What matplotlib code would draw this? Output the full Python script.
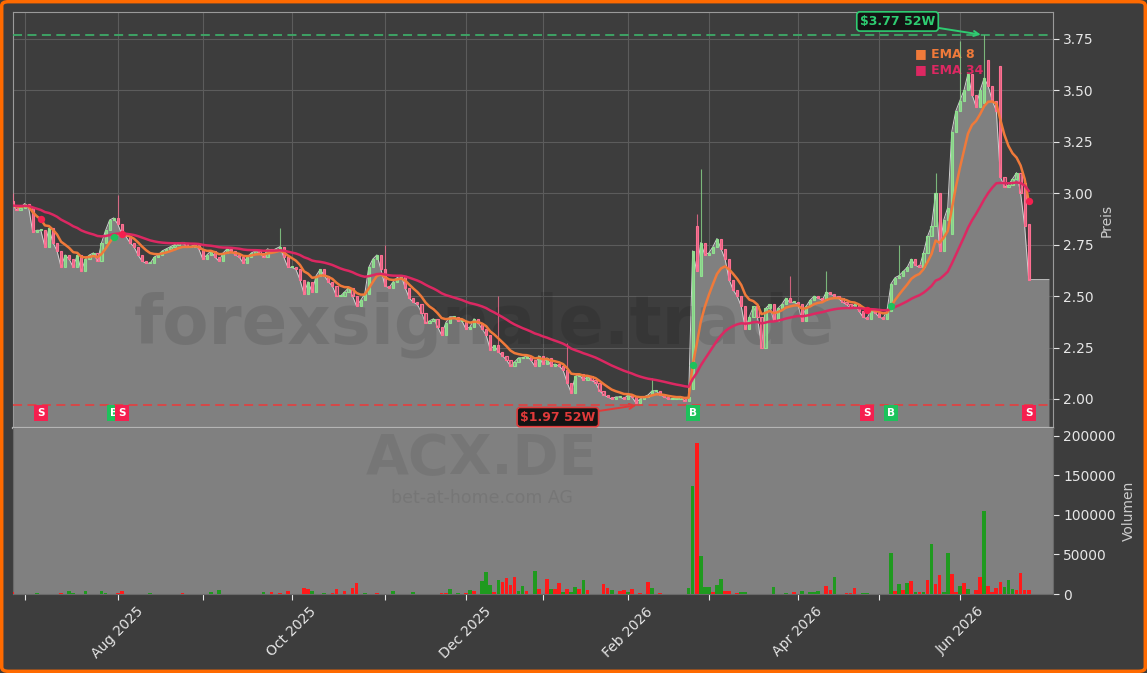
import matplotlib
matplotlib.use('Agg')
import matplotlib.pyplot as plt
from matplotlib.patches import FancyBboxPatch
import numpy as np
import pandas as pd

# Xetra trading days, exchange holidays taken out
holidays = ['2025-12-24', '2025-12-25', '2025-12-26', '2025-12-31',
            '2026-01-01', '2026-04-03', '2026-04-06', '2026-05-01']
dates = pd.bdate_range('2025-06-26', '2026-06-24')
dates = dates[~dates.isin(pd.to_datetime(holidays))]

closes = [
    2.94, 2.92, 2.93, 2.95, 2.93, 2.81, 2.82, 2.82, 2.74, 2.83,
    2.76, 2.72, 2.64, 2.70, 2.68, 2.64, 2.70, 2.62, 2.68, 2.70,
    2.71, 2.67, 2.76, 2.82, 2.87, 2.88, 2.85, 2.80, 2.79, 2.76,
    2.74, 2.70, 2.67, 2.66, 2.66, 2.69, 2.70, 2.72, 2.73, 2.74,
    2.75, 2.76, 2.76, 2.74, 2.74, 2.75, 2.73, 2.68, 2.70, 2.72,
    2.69, 2.67, 2.71, 2.73, 2.72, 2.70, 2.69, 2.66, 2.69, 2.71,
    2.72, 2.71, 2.69, 2.73, 2.72, 2.73, 2.74, 2.69, 2.64, 2.64,
    2.63, 2.58, 2.51, 2.57, 2.52, 2.60, 2.63, 2.60, 2.57, 2.55,
    2.50, 2.50, 2.52, 2.54, 2.50, 2.45, 2.48, 2.51, 2.64, 2.68,
    2.70, 2.63, 2.55, 2.54, 2.57, 2.59, 2.60, 2.54, 2.49, 2.47,
    2.46, 2.42, 2.37, 2.38, 2.39, 2.35, 2.31, 2.37, 2.40, 2.40,
    2.38, 2.38, 2.34, 2.35, 2.39, 2.37, 2.34, 2.31, 2.24, 2.26,
    2.23, 2.21, 2.19, 2.16, 2.18, 2.20, 2.20, 2.21, 2.19, 2.16,
    2.21, 2.17, 2.20, 2.16, 2.17, 2.16, 2.14, 2.08, 2.03, 2.11,
    2.12, 2.09, 2.11, 2.09, 2.08, 2.04, 2.02, 2.01, 2.00, 2.01,
    2.01, 2.00, 2.02, 2.01, 1.98, 2.00, 2.01, 2.02, 2.04, 2.04,
    2.02, 2.01, 2.00, 2.00, 2.00, 2.01, 1.99, 2.01, 2.72, 2.62,
    2.76, 2.70, 2.71, 2.74, 2.78, 2.73, 2.68, 2.58, 2.53, 2.50,
    2.45, 2.34, 2.40, 2.45, 2.40, 2.25, 2.44, 2.46, 2.38, 2.44,
    2.46, 2.49, 2.47, 2.47, 2.46, 2.38, 2.45, 2.48, 2.50, 2.49,
    2.48, 2.52, 2.51, 2.50, 2.49, 2.47, 2.46, 2.44, 2.46, 2.43,
    2.40, 2.39, 2.43, 2.42, 2.40, 2.39, 2.43, 2.56, 2.59, 2.60,
    2.62, 2.64, 2.68, 2.65, 2.64, 2.71, 2.79, 2.84, 3.00, 2.72,
    2.87, 2.93, 3.30, 3.40, 3.45, 3.50, 3.58, 3.48, 3.42, 3.50,
    3.56, 3.52, 3.45, 3.40, 3.08, 3.03, 3.04, 3.07, 3.10, 3.00,
    2.84, 2.58,
]

opens = [
    2.96, 2.94, 2.92, 2.93, 2.95, 2.93, 2.81, 2.82, 2.82, 2.74,
    2.83, 2.76, 2.72, 2.64, 2.70, 2.68, 2.64, 2.70, 2.62, 2.68,
    2.70, 2.71, 2.67, 2.76, 2.82, 2.87, 2.88, 2.85, 2.80, 2.79,
    2.76, 2.74, 2.70, 2.67, 2.66, 2.66, 2.69, 2.70, 2.72, 2.73,
    2.74, 2.75, 2.76, 2.76, 2.74, 2.74, 2.75, 2.73, 2.68, 2.70,
    2.72, 2.69, 2.67, 2.71, 2.73, 2.72, 2.70, 2.69, 2.66, 2.69,
    2.71, 2.72, 2.71, 2.69, 2.73, 2.72, 2.73, 2.74, 2.69, 2.64,
    2.64, 2.63, 2.58, 2.51, 2.57, 2.52, 2.60, 2.63, 2.60, 2.57,
    2.55, 2.50, 2.50, 2.52, 2.54, 2.50, 2.45, 2.48, 2.51, 2.64,
    2.68, 2.70, 2.63, 2.55, 2.54, 2.57, 2.59, 2.60, 2.54, 2.49,
    2.47, 2.46, 2.42, 2.37, 2.38, 2.39, 2.35, 2.31, 2.37, 2.40,
    2.40, 2.38, 2.38, 2.34, 2.35, 2.39, 2.37, 2.34, 2.31, 2.24,
    2.26, 2.23, 2.21, 2.19, 2.16, 2.18, 2.20, 2.20, 2.21, 2.19,
    2.16, 2.21, 2.17, 2.20, 2.16, 2.17, 2.16, 2.14, 2.08, 2.03,
    2.11, 2.12, 2.09, 2.11, 2.09, 2.08, 2.04, 2.02, 2.01, 2.00,
    2.01, 2.01, 2.00, 2.02, 2.01, 1.98, 2.00, 2.01, 2.02, 2.04,
    2.04, 2.02, 2.01, 2.00, 2.00, 2.00, 2.01, 1.99, 2.05, 2.84,
    2.60, 2.76, 2.70, 2.71, 2.74, 2.78, 2.73, 2.68, 2.58, 2.53,
    2.50, 2.45, 2.34, 2.40, 2.45, 2.40, 2.25, 2.44, 2.46, 2.38,
    2.44, 2.46, 2.49, 2.47, 2.47, 2.46, 2.38, 2.45, 2.48, 2.50,
    2.49, 2.48, 2.52, 2.51, 2.50, 2.49, 2.47, 2.46, 2.44, 2.46,
    2.43, 2.40, 2.39, 2.43, 2.42, 2.40, 2.39, 2.43, 2.56, 2.59,
    2.60, 2.62, 2.64, 2.68, 2.65, 2.64, 2.71, 2.79, 2.84, 3.00,
    2.72, 2.87, 2.80, 3.30, 3.40, 3.45, 3.50, 3.58, 3.48, 3.42,
    3.44, 3.65, 3.52, 3.45, 3.62, 3.08, 3.03, 3.04, 3.07, 3.10,
    3.05, 2.85,
]

# upper wicks that stand out
wick_idx = [0, 26, 66, 92, 120, 137, 158, 169, 170, 192, 201, 219, 228, 234, 240]
wick_high = [3.00, 2.99, 2.83, 2.75, 2.50, 2.27, 2.10, 2.90, 3.12, 2.60, 2.62, 2.75, 3.10, 3.74, 3.77]

# volume (only days with visible bars), 'g' = up day, 'r' = down day
vol_idx = [0, 6, 12, 14, 15, 18, 22, 23, 26, 27, 34, 42, 49, 51, 62, 64, 66, 68,
           72, 73, 74, 77, 79, 80, 82, 84, 85, 87, 90, 94, 99, 106, 107, 108, 110,
           112, 113, 114, 116, 117, 118, 119, 120, 121, 122, 123, 124, 125, 126,
           127, 129, 130, 132, 133, 134, 135, 136, 137, 138, 139, 140, 141, 142,
           146, 147, 148, 150, 151, 152, 153, 155, 157, 158, 160, 167, 168, 169,
           170, 171, 172, 173, 174, 175, 176, 177, 179, 180, 181, 188, 191, 193,
           195, 197, 198, 199, 201, 202, 203, 206, 207, 208, 210, 211, 217, 218,
           219, 220, 221, 222, 223, 224, 225, 226, 227, 228, 229, 230, 231, 232,
           233, 234, 235, 236, 238, 239, 240, 241, 242, 243, 244, 245, 246, 247,
           248, 249, 250, 251]
vol_val = [2100, 1300, 1300, 3800, 1300, 3800, 3800, 1300, 1300, 3800, 1300, 1300,
           2500, 5000, 2500, 2500, 1300, 3800,
           7600, 6800, 3800, 1300, 1300, 6300, 3800, 7600, 14000, 1300, 1300, 3800,
           2500, 1300, 1300, 6300, 1300,
           1300, 5000, 3800, 16500, 27800, 11400, 2500, 17700, 15600, 20000, 11400,
           22000, 3800, 10000,
           3800, 29000, 6300, 19400, 6300, 6300, 14000, 2500, 6300, 2500, 9000, 6300,
           17700, 5000,
           12600, 7600, 5000, 3800, 5000, 2500, 6300, 1300, 15200, 7600, 1300, 7600,
           137000, 191500,
           48000, 9000, 9000, 2500, 11400, 19000, 3800, 3800, 1300, 2500, 2500, 9000,
           1300, 2500,
           3800, 2500, 2500, 3800, 10000, 5000, 21500, 1300, 1300, 7600, 1300, 1300,
           52000, 3800,
           12600, 5000, 14000, 16500, 2500, 2500, 2500, 17700, 63000, 12600, 24000,
           2500, 52000, 25300,
           2500, 10000, 14000, 6300, 5000, 21500, 105000, 10000, 2500, 7600, 15200,
           9000, 17700, 6300,
           5000, 26600, 5000, 5000]
vol_dir = ['r', 'g', 'r', 'g', 'g', 'g', 'g', 'g', 'r', 'r', 'g', 'r', 'g', 'g', 'g', 'r', 'r', 'r',
           'r', 'r', 'g', 'g', 'r', 'r', 'r', 'r', 'r', 'g', 'r', 'g', 'g', 'r', 'r', 'g', 'g',
           'r', 'g', 'r', 'g', 'g', 'g', 'r', 'g', 'r', 'r', 'r', 'r', 'g', 'g',
           'r', 'g', 'r', 'r', 'g', 'r', 'r', 'g', 'r', 'g', 'g', 'r', 'g', 'r',
           'r', 'r', 'g', 'r', 'r', 'g', 'r', 'r', 'r', 'g', 'r', 'g', 'g', 'r',
           'g', 'g', 'g', 'r', 'g', 'g', 'r', 'r', 'r', 'g', 'g', 'g', 'g', 'r',
           'g', 'g', 'g', 'g', 'r', 'r', 'g', 'r', 'r', 'r', 'g', 'g', 'g', 'r',
           'g', 'r', 'g', 'r', 'g', 'r', 'g', 'r', 'g', 'r', 'r', 'g', 'g', 'r',
           'r', 'g', 'r', 'g', 'r', 'r', 'g', 'r', 'r', 'r', 'r', 'g', 'g', 'g',
           'r', 'r', 'r', 'r']

sig_idx = [7, 25, 27, 168, 211, 217, 251]
sig_type = ['S', 'B', 'S', 'B', 'S', 'B', 'S']

high_52w = 3.77
low_52w = 1.97

# ------------------------------------------------------------------
bg = '#3d3d3d'
up_c = '#8fe08f'
dn_c = '#ff6f92'
ema8_c = '#f07a3a'
ema34_c = '#dc2862'
green_sig = '#1dc25c'
red_sig = '#f5204f'

x = np.arange(len(closes))
close = np.array(closes)
opn = np.array(opens)
high = np.maximum(opn, close)
high[wick_idx] = wick_high
low = np.minimum(opn, close)
ema8 = pd.Series(close).ewm(span=8, adjust=False).mean().values
ema34 = pd.Series(close).ewm(span=34, adjust=False).mean().values

fig = plt.figure(figsize=(11.47, 6.73), dpi=100, facecolor=bg)
W, H = 1147., 673.
ax = fig.add_axes([12.5 / W, 245 / H, 1040.5 / W, 416 / H])
axv = fig.add_axes([12.5 / W, 79 / H, 1040.5 / W, 166 / H], sharex=ax)

# price panel
ax.set_facecolor(bg)
ax.grid(True, color='#5c5c5c', lw=0.8)
ax.set_axisbelow(True)
xf = np.r_[x, 256]
yf = np.r_[close, close[-1]]
ax.fill_between(xf, yf, 1.5, color='#808080', lw=0, zorder=1)
ax.plot(xf, yf, color='#d2d2d2', lw=0.7, zorder=2)

ax.text(0.453, 0.248, 'forexsignale.trade', transform=ax.transAxes, ha='center',
        va='center', fontsize=48.5, fontweight='bold', color='black', alpha=0.1,
        zorder=2.5)

up = close >= opn
cols = np.where(up, up_c, dn_c)
ax.vlines(x, low, high, colors=cols, lw=0.8, alpha=0.75, zorder=3)
body = np.maximum(np.abs(close - opn), 0.005)
ax.bar(x, body, bottom=low, width=0.55, color=cols, alpha=0.3, lw=0, zorder=4)
ax.bar(x, body, bottom=low, width=0.55, facecolor='none', edgecolor=cols,
       lw=0.8, zorder=4)

ax.plot(x, ema8, color=ema8_c, lw=1.8, zorder=5)
ax.plot(x, ema34, color=ema34_c, lw=1.8, zorder=5)

ax.axhline(high_52w, color='#3daa68', ls='--', lw=1.3, dashes=(5, 3), zorder=2.6)
ax.axhline(low_52w, color='#dd4444', ls='--', lw=1.3, dashes=(5, 3), zorder=2.6)

i_hi = int(np.argmax(high))
ax.annotate('$%.2f 52W' % high_52w, xy=(i_hi - 0.5, high_52w), xytext=(218.6, 3.835),
            ha='center', va='center', fontsize=9, fontweight='bold', color='#2ecc71',
            bbox=dict(boxstyle='round,pad=0.25', fc='#141414', ec='#2ecc71', lw=1.2),
            arrowprops=dict(arrowstyle='->', color='#2ecc71', lw=1.4,
                            shrinkA=0, shrinkB=1), zorder=7)
ax.annotate('$%.2f 52W' % low_52w, xy=(154.4, low_52w), xytext=(134.7, 1.912),
            ha='center', va='center', fontsize=9, fontweight='bold', color='#e03a3a',
            bbox=dict(boxstyle='round,pad=0.25', fc='#141414', ec='#e03a3a', lw=1.2),
            arrowprops=dict(arrowstyle='->', color='#e03a3a', lw=1.4,
                            shrinkA=0, shrinkB=1), zorder=7)

for i, t in zip(sig_idx, sig_type):
    c = green_sig if t == 'B' else red_sig
    ax.scatter(i, ema8[i], s=28, color=c, zorder=6, lw=0)
    ax.text(i, 1.932, t, ha='center', va='center', fontsize=7.5, fontweight='bold',
            color='white', zorder=7,
            bbox=dict(boxstyle='square,pad=0.3', fc=c, ec='none'))

ax.text(0.867, 0.901, '■ EMA 8', transform=ax.transAxes, color=ema8_c,
        fontsize=9, fontweight='bold', va='center', zorder=2.7)
ax.text(0.867, 0.862, '■ EMA 34', transform=ax.transAxes, color=ema34_c,
        fontsize=9, fontweight='bold', va='center', zorder=2.7)

ax.set_ylim(1.859, 3.881)
ax.set_xlim(0, 257)
ax.yaxis.tick_right()
ax.yaxis.set_label_position('right')
ax.set_yticks(np.arange(2.0, 3.76, 0.25))
ax.yaxis.set_major_formatter(matplotlib.ticker.FormatStrFormatter('%.2f'))
ax.set_ylabel('Preis', color='#cccccc', fontsize=10)
ax.tick_params(axis='y', colors='#e6e6e6', labelsize=10, length=4)
ax.tick_params(axis='x', bottom=False, labelbottom=False)
for s in ax.spines.values():
    s.set_color('#9a9a9a')
ax.spines['bottom'].set_color('#b4b4b4')
ax.spines['bottom'].set_linewidth(1.6)

# volume panel
axv.set_facecolor('#808080')
vcol = ['#1f9a1f' if d == 'g' else '#ff1a1a' for d in vol_dir]
axv.bar(vol_idx, vol_val, width=0.9, color=vcol, lw=0, zorder=3)
axv.text(0.451, 0.815, 'ACX.DE', transform=axv.transAxes, ha='center', va='center',
         fontsize=40, fontweight='bold', color='black', alpha=0.07, zorder=1)
axv.text(0.451, 0.58, 'bet-at-home.com AG', transform=axv.transAxes, ha='center',
         va='center', fontsize=12.5, color='black', alpha=0.07, zorder=1)
axv.set_ylim(0, 210000)
axv.yaxis.tick_right()
axv.yaxis.set_label_position('right')
axv.set_yticks([0, 50000, 100000, 150000, 200000])
axv.set_yticklabels(['0', '50000', '100000', '150000', '200000'])
axv.set_ylabel('Volumen', color='#cccccc', fontsize=10)

month_first = pd.Series(np.arange(len(dates)), index=dates).groupby(
    [dates.year, dates.month]).first().values[1:]
labels = [dates[i].strftime('%b %Y') if dates[i].month % 2 == 0 else ''
          for i in month_first]
axv.set_xticks(month_first)
axv.set_xticklabels(labels, rotation=45)
axv.tick_params(colors='#e6e6e6', labelsize=10, length=4)
for s in axv.spines.values():
    s.set_color('#6a6a6a')
axv.spines['top'].set_visible(False)

fig.patches.append(FancyBboxPatch((0.0015, 0.0025), 0.997, 0.995,
                                  boxstyle='round,pad=0,rounding_size=0.006',
                                  transform=fig.transFigure, fc='none',
                                  ec='#ff6a00', lw=2.5))

fig.savefig('out.png', dpi=100, facecolor=bg)
